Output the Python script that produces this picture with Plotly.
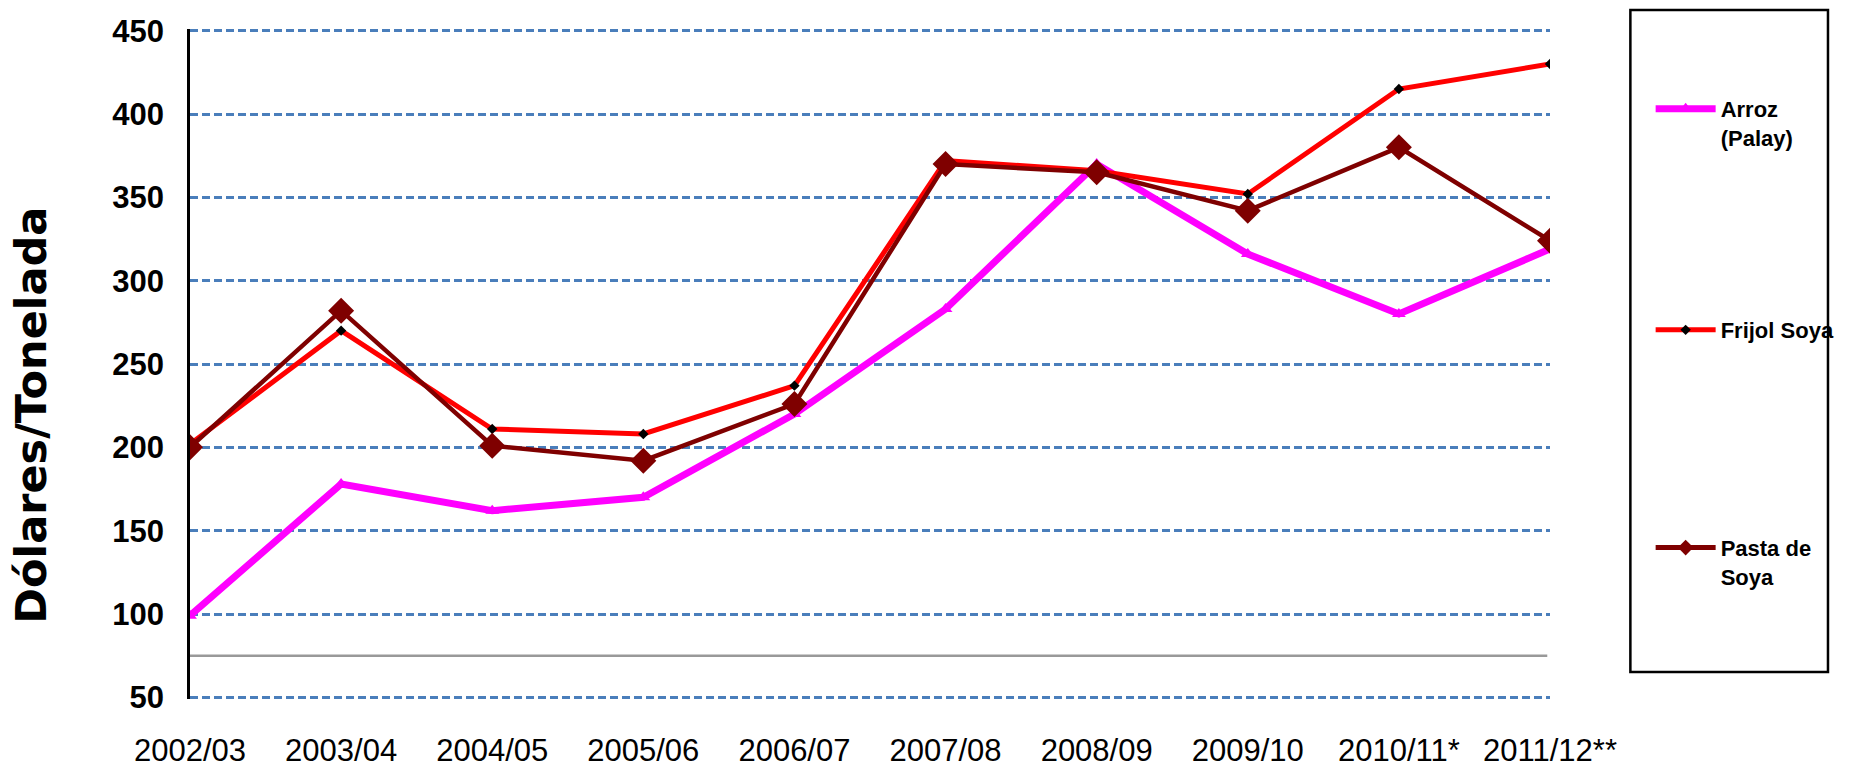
import plotly.graph_objects as go

campanas = ["2002/03", "2003/04", "2004/05", "2005/06", "2006/07",
            "2007/08", "2008/09", "2009/10", "2010/11*", "2011/12**"]
arroz_palay = [99, 178, 162, 170, 220, 283, 370, 316, 280, 319]
frijol_soya = [202, 270, 211, 208, 237, 372, 366, 352, 415, 430]
pasta_soya = [200, 282, 201, 192, 226, 370, 365, 342, 380, 324]
y_ticks = [50, 100, 150, 200, 250, 300, 350, 400, 450]
linea_base = 75  # the grey line drawn across the chart

FONT = "Liberation Sans Narrow, Arial Narrow, Liberation Sans, Arial, sans-serif"

fig = go.Figure()

fig.add_trace(go.Scatter(
    x=campanas, y=arroz_palay, name="Arroz<br>(Palay)",
    mode="lines+markers",
    line=dict(color="#FF00FF", width=7),
    marker=dict(symbol="triangle-up", size=12, color="#FF00FF"),
    legend="legend",
))
fig.add_trace(go.Scatter(
    x=campanas, y=frijol_soya, name="Frijol Soya",
    mode="lines+markers",
    line=dict(color="#FF0000", width=5),
    marker=dict(symbol="diamond", size=8, color="#000000"),
    legend="legend2",
))
fig.add_trace(go.Scatter(
    x=campanas, y=pasta_soya, name="Pasta de<br>Soya",
    mode="lines+markers",
    line=dict(color="#7F0000", width=4.5),
    marker=dict(symbol="diamond", size=20, color="#7F0000"),
    legend="legend3",
))

# grey base line
fig.add_shape(type="line", xref="x domain", yref="y",
              x0=0, x1=0.998, y0=linea_base, y1=linea_base,
              line=dict(color="#999999", width=2.5), layer="below")

# legend frame
fig.add_shape(type="rect", xref="paper", yref="paper",
              x0=1.0591, x1=1.2044, y0=0.0403, y1=1.0284,
              line=dict(color="black", width=2.5))

# y-axis title placed like the original (lower than centre)
fig.add_annotation(
    text="Dólares/Tonelada", textangle=-90,
    xref="paper", yref="paper", x=-0.117, y=0.424,
    xanchor="center", yanchor="middle",
    showarrow=False,
    font=dict(family="DejaVu Sans, sans-serif", size=43, color="black", weight="bold"),
)

legend_font = dict(family=FONT, size=22, color="black", weight="bold")
leg = dict(xanchor="left", yanchor="top", valign="top", font=legend_font,
           bgcolor="rgba(0,0,0,0)", borderwidth=0, itemwidth=60, x=1.074)

fig.update_layout(
    width=1852, height=774, autosize=False,
    plot_bgcolor="white", paper_bgcolor="white",
    margin=dict(l=190, r=292, t=29, b=75),
    showlegend=True,
    legend=dict(leg, y=0.912, itemsizing="trace"),
    legend2=dict(leg, y=0.582, itemsizing="trace"),
    legend3=dict(leg, y=0.257, itemsizing="constant"),
    xaxis=dict(
        type="category", range=[0, len(campanas) - 1],
        showgrid=False, showline=False, zeroline=False, ticks="",
        tickfont=dict(family=FONT, size=31, color="black"),
        ticklabelstandoff=30, automargin=False,
    ),
    yaxis=dict(
        range=[49, 451], tickvals=y_ticks,
        showgrid=True, gridcolor="#4A7EBB", gridwidth=2.5, griddash="8px,4px",
        showline=True, linecolor="black", linewidth=2.5,
        zeroline=False, ticks="",
        tickfont=dict(family=FONT, size=31, color="black", weight="bold"),
        ticklabelstandoff=17, automargin=False,
    ),
)

fig.write_html("out.html", config={"displayModeBar": False},
               post_script="document.body.style.margin='0px';")
